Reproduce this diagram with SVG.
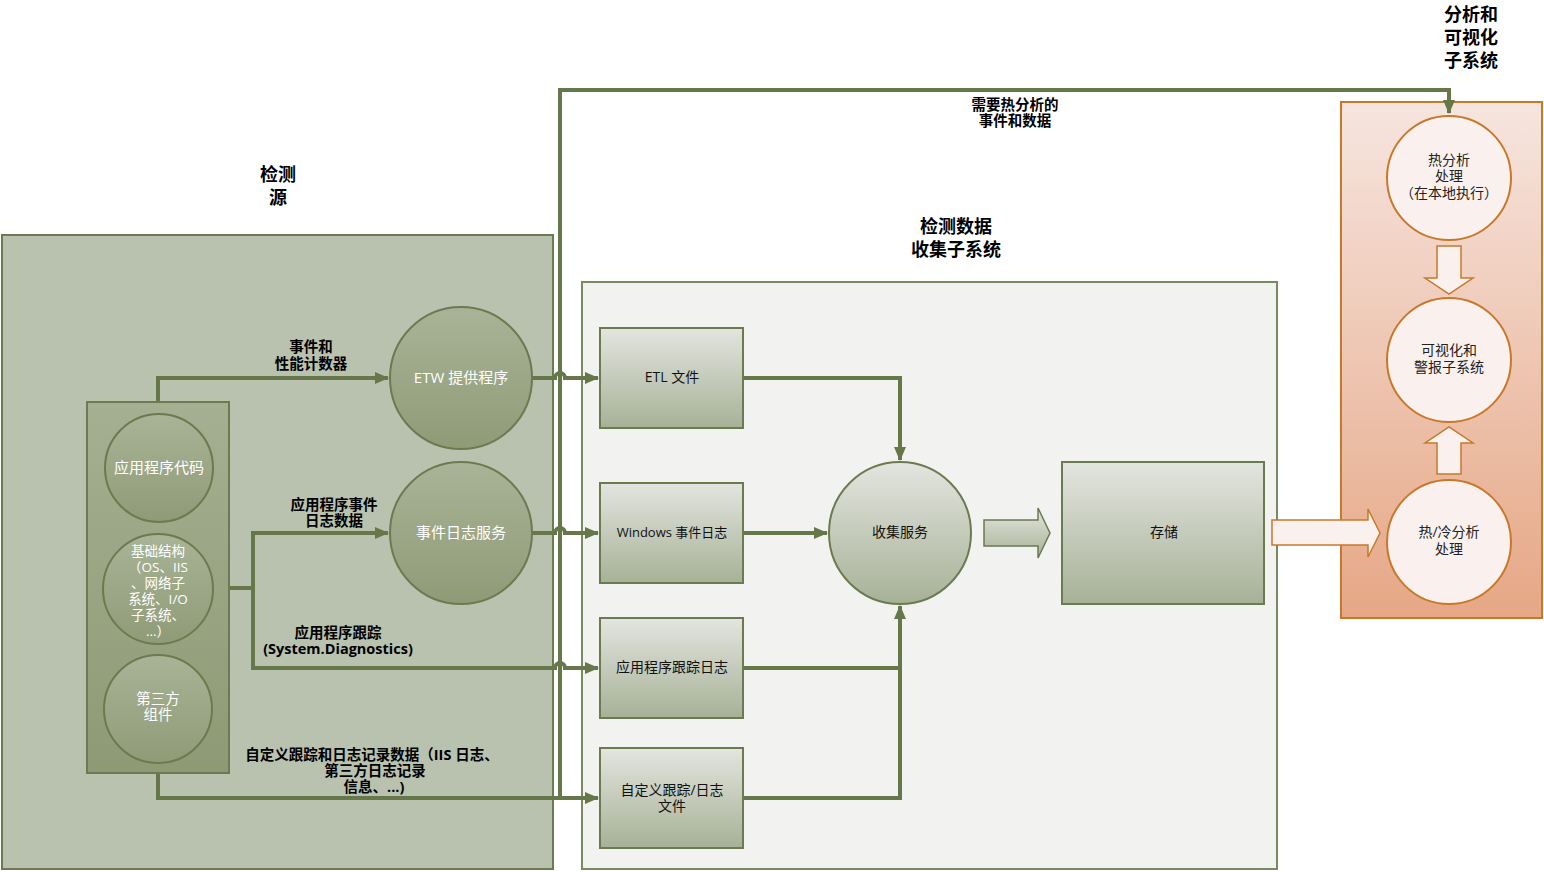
<svg xmlns="http://www.w3.org/2000/svg" width="1544" height="871" viewBox="0 0 1544 871">
<defs>
<linearGradient id="gDark" x1="0" y1="0" x2="0" y2="1"><stop offset="0" stop-color="#a9b397"/><stop offset="1" stop-color="#8f9b77"/></linearGradient>
<linearGradient id="gBox" x1="0" y1="0" x2="0" y2="1"><stop offset="0" stop-color="#e3e5df"/><stop offset="1" stop-color="#a7b197"/></linearGradient>
<linearGradient id="gInner" x1="0" y1="0" x2="0" y2="1"><stop offset="0" stop-color="#a5af92"/><stop offset="1" stop-color="#8e9a75"/></linearGradient>
<linearGradient id="gOrange" x1="0" y1="0" x2="0" y2="1"><stop offset="0" stop-color="#f6e5df"/><stop offset="1" stop-color="#e6a785"/></linearGradient>
<marker id="ah" viewBox="0 0 14 12" refX="13" refY="6" markerWidth="14" markerHeight="12" markerUnits="userSpaceOnUse" orient="auto"><path d="M0,0 L14,6 L0,12 Z" fill="#66784a"/></marker>
<style>
.con{fill:none;stroke:#66784a;stroke-width:4}
.dk{fill:url(#gDark);stroke:#6b7a4f;stroke-width:2}
.bx{fill:url(#gBox);stroke:#6b7a4f;stroke-width:2}
.oc{fill:#faf1ee;stroke:#c8782a;stroke-width:2}
.t{font-family:"Open Sans","Noto Sans CJK SC",sans-serif;text-anchor:middle}
.wt{fill:#ffffff;font-size:15px}
.wi{fill:#ffffff;font-size:13.5px}
.bt{fill:#111111;font-size:14px}
.st{fill:#222222;font-size:14px}
.lb{fill:#000000;font-size:14.5px;font-weight:bold}
.hd{fill:#000000;font-size:18px;font-weight:bold}
</style>
</defs>
<g id="containers">
<rect id="sources-area" x="2" y="235" width="551" height="634" fill="#b8c2ae" stroke="#6b7a4f" stroke-width="2"/>
<rect id="collect-area" x="582" y="282" width="695" height="587" fill="#f2f2f0" stroke="#7a8a5e" stroke-width="2"/>
<rect id="analysis-area" x="1341" y="102" width="201" height="516" fill="url(#gOrange)" stroke="#c8782a" stroke-width="2"/>
</g>
<g id="titles">
<text class="t hd" x="278" y="181">检测</text><text class="t hd" x="278" y="204">源</text>
<text class="t hd" x="956" y="233">检测数据</text><text class="t hd" x="956" y="256">收集子系统</text>
<text class="t hd" x="1471" y="21">分析和</text><text class="t hd" x="1471" y="44">可视化</text><text class="t hd" x="1471" y="67">子系统</text>
</g>
<g id="connectors">
<path class="con" d="M158,402 V378 H388" marker-end="url(#ah)"/>
<path class="con" d="M229,588 H253 V533 H388" marker-end="url(#ah)"/>
<path class="con" d="M253,588 V668 H555 A5,5 0 0 1 565,668 H598" marker-end="url(#ah)"/>
<path class="con" d="M532,378 H555 A5,5 0 0 1 565,378 H598" marker-end="url(#ah)"/>
<path class="con" d="M532,533 H555 A5,5 0 0 1 565,533 H598" marker-end="url(#ah)"/>
<path class="con" d="M158,773 V798 H598" marker-end="url(#ah)"/>
<path class="con" d="M560,798 V90 H1449 V113" marker-end="url(#ah)"/>
<path class="con" d="M743,378 H900 V460" marker-end="url(#ah)"/>
<path class="con" d="M743,533 H827" marker-end="url(#ah)"/>
<path class="con" d="M743,668 H900"/>
<path class="con" d="M743,798 H900 V606" marker-end="url(#ah)"/>
</g>
<g id="connector-labels">
<text class="t lb" x="311" y="352">事件和</text><text class="t lb" x="311" y="369">性能计数器</text>
<text class="t lb" x="334" y="510">应用程序事件</text><text class="t lb" x="334" y="526">日志数据</text>
<text class="t lb" x="338" y="638">应用程序跟踪</text><text class="t lb" x="338" y="654">(System.Diagnostics)</text>
<text class="t lb" x="372" y="760">自定义跟踪和日志记录数据（IIS 日志、</text><text class="t lb" x="375" y="776">第三方日志记录</text><text class="t lb" x="374" y="792">信息、...)</text>
<text class="t lb" x="1015" y="110">需要热分析的</text><text class="t lb" x="1015" y="126">事件和数据</text>
</g>
<g id="node-sources">
<rect x="87" y="402" width="142" height="371" fill="url(#gInner)" stroke="#6b7a4f" stroke-width="2"/>
</g>
<g id="node-appcode"><circle class="dk" cx="159" cy="468" r="54"/><text class="t wt" x="159" y="473">应用程序代码</text></g>
<g id="node-infra"><circle class="dk" cx="158" cy="589" r="55"/>
<text class="t wi" x="158" y="556">基础结构</text><text class="t wi" x="158" y="572">（OS、IIS</text><text class="t wi" x="158" y="588">、网络子</text><text class="t wi" x="158" y="604">系统、I/O</text><text class="t wi" x="158" y="620">子系统、</text><text class="t wi" x="158" y="636">...）</text></g>
<g id="node-thirdparty"><circle class="dk" cx="158" cy="709" r="54"/><text class="t wt" x="158" y="704" style="font-size:14.5px">第三方</text><text class="t wt" x="158" y="720" style="font-size:14.5px">组件</text></g>
<g id="node-etw"><circle class="dk" cx="461" cy="378" r="71"/><text class="t wt" x="461" y="383">ETW 提供程序</text></g>
<g id="node-eventlog"><circle class="dk" cx="461" cy="533" r="71"/><text class="t wt" x="461" y="538">事件日志服务</text></g>
<g id="node-etl"><rect class="bx" x="600" y="328" width="143" height="100"/><text class="t bt" x="672" y="382">ETL 文件</text></g>
<g id="node-winlog"><rect class="bx" x="600" y="483" width="143" height="100"/><text class="t bt" x="672" y="537" style="font-size:13px">Windows 事件日志</text></g>
<g id="node-apptrace"><rect class="bx" x="600" y="618" width="143" height="100"/><text class="t bt" x="672" y="672">应用程序跟踪日志</text></g>
<g id="node-custom"><rect class="bx" x="600" y="748" width="143" height="100"/><text class="t bt" x="672" y="795">自定义跟踪/日志</text><text class="t bt" x="672" y="811">文件</text></g>
<g id="node-collect"><circle class="bx" cx="900" cy="533" r="71"/><text class="t bt" x="900" y="537">收集服务</text></g>
<g id="arrow-collect-storage"><path d="M984,520 H1038 V508 L1050,533 L1038,558 V546 H984 Z" fill="url(#gBox)" stroke="#6b7a4f" stroke-width="1.5"/></g>
<g id="node-storage"><rect class="bx" x="1062" y="462" width="202" height="142"/><text class="t bt" x="1164" y="537">存储</text></g>
<g id="arrow-storage-analysis"><path d="M1272,520 H1368 V509 L1380,533 L1368,557 V545 H1272 Z" fill="#faf1ee" stroke="#c8782a" stroke-width="1.5"/></g>
<g id="node-hot"><circle class="oc" cx="1449" cy="178" r="62"/><text class="st t" x="1449" y="165">热分析</text><text class="st t" x="1449" y="181">处理</text><text class="st t" x="1449" y="198">（在本地执行）</text></g>
<g id="arrow-down"><path d="M1437,246 H1461 V278 H1473 L1449,294 L1425,278 H1437 Z" fill="#faf1ee" stroke="#c8782a" stroke-width="1.5"/></g>
<g id="node-vis"><circle class="oc" cx="1449" cy="360" r="62"/><text class="st t" x="1449" y="355">可视化和</text><text class="st t" x="1449" y="372">警报子系统</text></g>
<g id="arrow-up"><path d="M1437,474 H1461 V443 H1473 L1449,427 L1425,443 H1437 Z" fill="#faf1ee" stroke="#c8782a" stroke-width="1.5"/></g>
<g id="node-hotcold"><circle class="oc" cx="1449" cy="542" r="62"/><text class="st t" x="1449" y="537">热/冷分析</text><text class="st t" x="1449" y="554">处理</text></g>
</svg>
